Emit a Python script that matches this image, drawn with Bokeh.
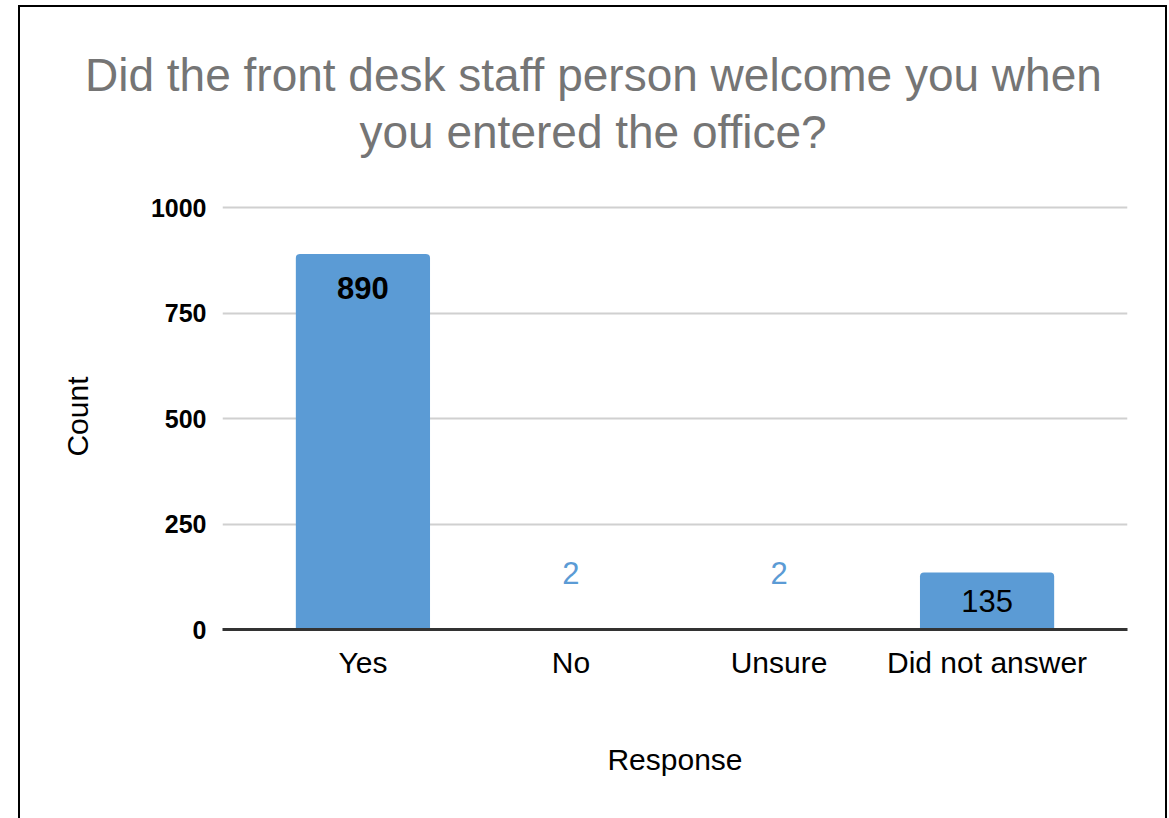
from bokeh.plotting import figure
from bokeh.models import ColumnDataSource, FactorRange, Range1d, FixedTicker, LabelSet, Title
from bokeh.embed import file_html
from bokeh.resources import INLINE
from bokeh.core.properties import value

# ---- data ----
categories = ["Yes", "No", "Unsure", "Did not answer"]
counts = [890, 2, 2, 135]
y_ticks = [0, 250, 500, 750, 1000]
title_lines = ["Did the front desk staff person welcome you when", "you entered the office?"]
x_title = "Response"
y_title = "Count"

BAR = "#5b9bd5"
FONT = "Liberation Sans"

inside = [c >= 100 for c in counts]
top = max(counts)
src = ColumnDataSource(dict(
    cat=categories,
    count=counts,
    label=[str(c) for c in counts],
    color=["#000000" if i else BAR for i in inside],
    weight=["bold" if c == top else "normal" for c in counts],
    yoff=[(-34 if c == top else -28) if i else 56 for c, i in zip(counts, inside)],
))

p = figure(
    x_range=FactorRange(*categories, range_padding=0.0875, range_padding_units="percent"),
    y_range=Range1d(0, 1010),
    width=1149, height=820,
    output_backend="svg", toolbar_location=None,
    min_border_left=202, min_border_right=42, min_border_top=196, min_border_bottom=198,
)
p.styles = {"border": "2px solid black", "margin-left": "18px", "margin-top": "5px"}
p.background_fill_color = "white"
p.border_fill_color = "white"
p.outline_line_color = None
p.title.visible = False

# title: panels stack outward from the frame -> spacer, line 2, line 1
p.add_layout(Title(text=" ", text_font=FONT, text_font_size="1px", standoff=41), "above")
p.add_layout(Title(text=title_lines[1], align="left", offset=137, text_font=FONT,
                   text_font_size="46px", text_font_style="normal", text_color="#757575",
                   standoff=3), "above")
p.add_layout(Title(text=title_lines[0], align="left", offset=-137.5, text_font=FONT,
                   text_font_size="46px", text_font_style="normal", text_color="#757575",
                   standoff=3), "above")

p.vbar(x="cat", top="count", width=0.645, source=src, fill_color=BAR, line_color=None,
       border_radius=(4, 4, 0, 0))

labels = LabelSet(x="cat", y="count", text="label", source=src, y_offset="yoff",
                  text_align="center", text_baseline="middle", text_font=value(FONT),
                  text_font_size="31px", text_color="color", text_font_style="weight")
p.add_layout(labels)

# axes
p.xaxis.axis_label = x_title
p.yaxis.axis_label = y_title
for ax in (p.xaxis, p.yaxis):
    ax.axis_label_text_font = FONT
    ax.axis_label_text_font_size = "30px"
    ax.axis_label_text_font_style = "normal"
    ax.axis_label_text_color = "#000000"
    ax.major_tick_line_color = None
    ax.minor_tick_line_color = None

p.xaxis.axis_line_color = "#333333"
p.xaxis.axis_line_width = 3
p.xaxis.major_label_text_font = FONT
p.xaxis.major_label_text_font_size = "30px"
p.xaxis.major_label_text_color = "#000000"
p.xaxis.major_label_standoff = 10
p.xaxis.axis_label_standoff = 61

p.yaxis.axis_line_color = None
p.yaxis.ticker = FixedTicker(ticks=y_ticks)
p.yaxis.major_label_text_font = FONT
p.yaxis.major_label_text_font_size = "25px"
p.yaxis.major_label_text_font_style = "bold"
p.yaxis.major_label_text_color = "#000000"
p.yaxis.major_label_standoff = 10
p.yaxis.axis_label_standoff = 54

p.xgrid.grid_line_color = None
p.ygrid.ticker = FixedTicker(ticks=[250, 500, 750, 1000])
p.ygrid.grid_line_color = "#d0d0d0"
p.ygrid.grid_line_width = 2

open("out.html", "w").write(file_html(p, INLINE))
